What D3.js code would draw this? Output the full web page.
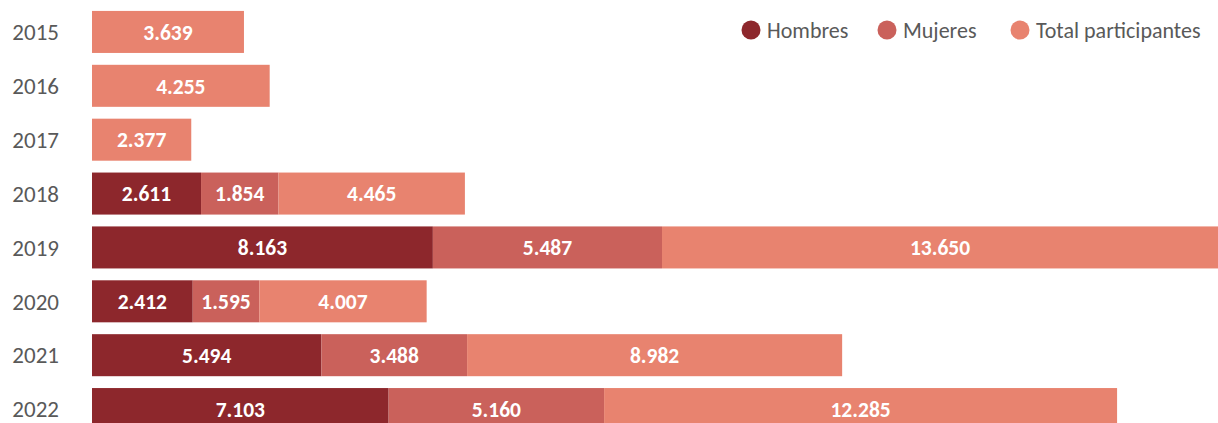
<!DOCTYPE html>
<html>
<head>
<meta charset="utf-8">
<script src="https://cdn.jsdelivr.net/npm/d3@7"></script>
<style>
  html, body { margin: 0; padding: 0; background: #fff; overflow: hidden; }
  svg { display: block; font-family: Carlito, Lato, sans-serif; }
</style>
</head>
<body>
<svg id="chart" width="1218" height="423"></svg>
<script>
const years = ["2015", "2016", "2017", "2018", "2019", "2020", "2021", "2022"];
const hombres = [null, null, null, 2611, 8163, 2412, 5494, 7103];
const mujeres = [null, null, null, 1854, 5487, 1595, 3488, 5160];
const total = [3639, 4255, 2377, 4465, 13650, 4007, 8982, 12285];
const seriesNames = ["Hombres", "Mujeres", "Total participantes"];
const colors = ["#8D272C", "#CA615B", "#E8836F"];

const svg = d3.select("#chart");
const W = 1218, H = 423;

const rows = years.map((y, i) => ({ year: y, vals: [hombres[i], mujeres[i], total[i]] }));

const x = d3.scaleLinear().domain([0, 27300]).range([92, 1232]);
const y = d3.scaleBand().domain(years).range([5, 436]).paddingInner(0.22).paddingOuter(0.11);

const fmt = v => d3.format(",")(v).replace(/,/g, ".");

const g = svg.append("g");
rows.forEach(r => {
  let acc = 0;
  r.vals.forEach((v, k) => {
    if (v == null) return;
    const x0 = x(acc), x1 = x(acc + v);
    g.append("rect")
      .attr("x", x0).attr("y", y(r.year))
      .attr("width", x1 - x0).attr("height", y.bandwidth())
      .attr("fill", colors[k]);
    g.append("text")
      .attr("x", (x0 + Math.min(x1, W)) / 2)
      .attr("y", y(r.year) + y.bandwidth() / 2)
      .attr("dy", "0.36em")
      .attr("text-anchor", "middle")
      .attr("fill", "#fff")
      .attr("font-weight", "bold")
      .attr("font-size", 21.5)
      .text(fmt(v));
    acc += v;
  });
});

// Year axis
const axis = svg.append("g").attr("transform", "translate(59,0)")
  .call(d3.axisLeft(y).tickSize(0).tickPadding(0));
axis.select(".domain").remove();
axis.selectAll("text")
  .attr("font-family", "Carlito, Lato, sans-serif")
  .attr("font-size", 23)
  .attr("fill", "#595959")
  .attr("dy", "0.36em");

// Legend
const legendPos = [751, 887, 1020];
const leg = svg.append("g");
seriesNames.forEach((n, k) => {
  leg.append("circle").attr("cx", legendPos[k]).attr("cy", 30).attr("r", 9.5).attr("fill", colors[k]);
  leg.append("text").attr("x", legendPos[k] + 16).attr("y", 30).attr("dy", "0.36em")
    .attr("font-size", 22).attr("fill", "#595959").text(n);
});
</script>
</body>
</html>
